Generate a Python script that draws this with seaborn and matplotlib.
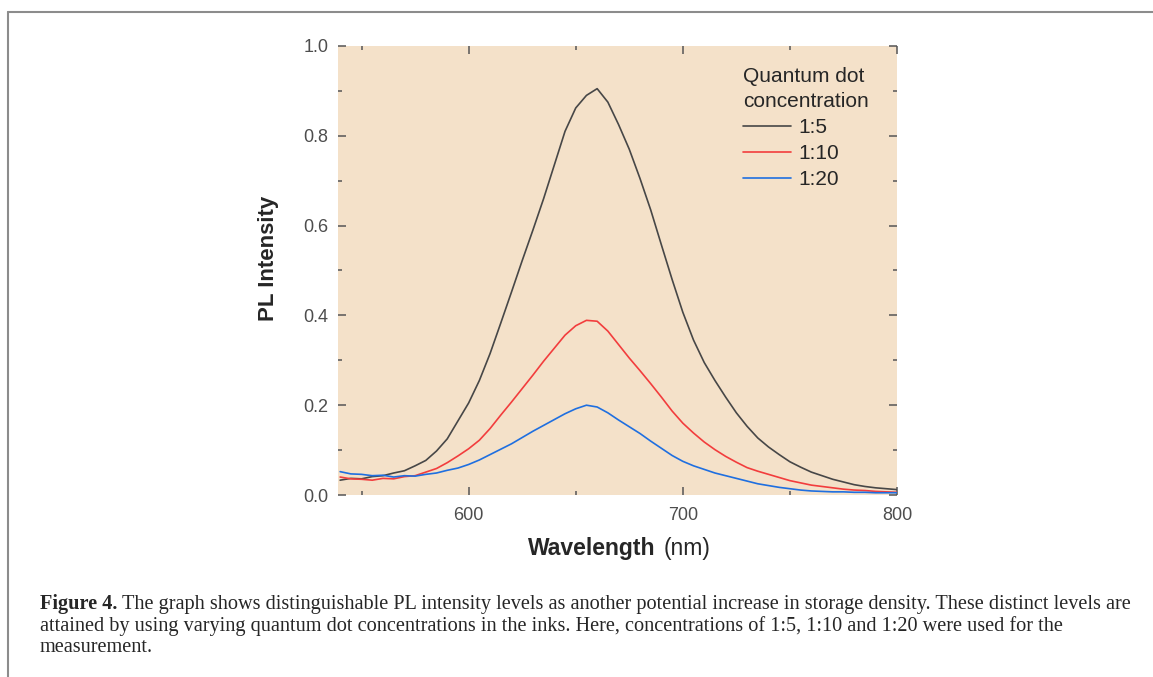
import numpy as np
import pandas as pd
import seaborn as sns
from matplotlib import pyplot as plt
from matplotlib.lines import Line2D
from matplotlib.ticker import MultipleLocator, FormatStrFormatter

sns.set_style('ticks')
plt.rcParams['font.family'] = ['Liberation Sans', 'DejaVu Sans']

# values, every 5 nm
wavelength = list(range(540, 805, 5))
pl_1_5 = [0.033, 0.037, 0.036, 0.041, 0.043, 0.049, 0.054, 0.065, 0.077, 0.098,
          0.125, 0.165, 0.205, 0.255, 0.315, 0.383, 0.452, 0.522, 0.590, 0.660,
          0.735, 0.810, 0.862, 0.890, 0.905, 0.875, 0.825, 0.770, 0.705, 0.635,
          0.557, 0.480, 0.407, 0.345, 0.295, 0.255, 0.218, 0.183, 0.153, 0.127,
          0.107, 0.090, 0.074, 0.062, 0.051, 0.043, 0.035, 0.029, 0.023, 0.019,
          0.016, 0.014, 0.012]
pl_1_10 = [0.040, 0.036, 0.035, 0.033, 0.037, 0.036, 0.041, 0.043, 0.051, 0.059,
           0.072, 0.087, 0.103, 0.122, 0.148, 0.178, 0.207, 0.237, 0.267, 0.298,
           0.327, 0.356, 0.377, 0.389, 0.387, 0.365, 0.335, 0.305, 0.277, 0.248,
           0.218, 0.187, 0.160, 0.138, 0.118, 0.101, 0.086, 0.073, 0.061, 0.053,
           0.046, 0.039, 0.032, 0.027, 0.022, 0.019, 0.016, 0.013, 0.011, 0.010,
           0.008, 0.007, 0.006]
pl_1_20 = [0.052, 0.047, 0.046, 0.043, 0.044, 0.040, 0.043, 0.042, 0.046, 0.049,
           0.055, 0.060, 0.068, 0.078, 0.090, 0.102, 0.114, 0.128, 0.142, 0.155,
           0.168, 0.181, 0.192, 0.200, 0.196, 0.183, 0.167, 0.152, 0.137, 0.120,
           0.104, 0.088, 0.075, 0.065, 0.057, 0.049, 0.043, 0.037, 0.031, 0.025,
           0.021, 0.017, 0.014, 0.011, 0.009, 0.008, 0.007, 0.007, 0.006, 0.006,
           0.005, 0.005, 0.005]
labels = ['1:5', '1:10', '1:20']
colors = ['#474747', '#f23d3d', '#1f6fe0']

df = pd.DataFrame({
    'wavelength': wavelength * 3,
    'intensity': pl_1_5 + pl_1_10 + pl_1_20,
    'conc': [l for l in labels for _ in wavelength],
})

W, H = 1153, 677
fig = plt.figure(figsize=(W / 100, H / 100), dpi=100)
ax = fig.add_axes([338 / W, 1 - 495 / H, (897 - 338) / W, (495 - 46) / H])
ax.set_facecolor('#f4e1c9')

sns.lineplot(data=df, x='wavelength', y='intensity', hue='conc', hue_order=labels,
             palette=colors, estimator=None, linewidth=1.2, ax=ax)

ax.set_xlim(539, 800)
ax.set_ylim(0, 1.0)
ax.xaxis.set_major_locator(MultipleLocator(100))
ax.xaxis.set_minor_locator(MultipleLocator(50))
ax.yaxis.set_major_locator(MultipleLocator(0.2))
ax.yaxis.set_minor_locator(MultipleLocator(0.1))
ax.yaxis.set_major_formatter(FormatStrFormatter('%.1f'))
for s in ax.spines.values():
    s.set_visible(False)
ax.tick_params(which='both', direction='in', top=True, right=True,
               color='#555555', labelcolor='#4d4d4d', labelsize=13, width=1.1)
ax.tick_params(which='major', length=6)
ax.tick_params(which='minor', length=3)
ax.tick_params(axis='x', pad=9)
ax.tick_params(axis='y', pad=7)
ax.set_xlabel('')
ax.set_ylabel('')

ax.text(0.568, -0.12, 'Wavelength', transform=ax.transAxes, fontsize=16.5,
        fontweight='bold', ha='right', va='center')
ax.text(0.582, -0.12, '(nm)', transform=ax.transAxes, fontsize=16.5,
        ha='left', va='center')
ax.text(-0.125, 0.528, 'PL Intensity', transform=ax.transAxes, fontsize=16,
        fontweight='bold', rotation=90, ha='center', va='center')

h, l = ax.get_legend_handles_labels()
leg = ax.legend(h, l, title='Quantum dot\nconcentration', frameon=False,
                loc='upper left', bbox_to_anchor=(0.7245, 0.953), borderpad=0,
                borderaxespad=0, fontsize=15, title_fontsize=15, handlelength=2.3,
                handletextpad=0.35, labelspacing=0.34)
leg._legend_box.align = 'left'
leg.get_title().set_linespacing(1.4)
for line in leg.get_lines():
    line.set_linewidth(1.2)

# page frame
fig.add_artist(Line2D([8 / W, 1], [1 - 12 / H, 1 - 12 / H], color='#8c8c8c', lw=1.5))
fig.add_artist(Line2D([8 / W, 8 / W], [0, 1 - 12 / H], color='#8c8c8c', lw=1.5))

# caption
cap_lines = [
    'The graph shows distinguishable PL intensity levels as another potential increase in storage density. These distinct levels are',
    'attained by using varying quantum dot concentrations in the inks. Here, concentrations of 1:5, 1:10 and 1:20 were used for the',
    'measurement.',
]
cap_font = dict(family=['Liberation Serif', 'DejaVu Serif'], size=14.6)
cap_y = [604, 626, 648]
t = fig.text(40 / W, 1 - cap_y[0] / H, 'Figure 4.', fontweight='bold', va='center', **cap_font)
r = fig.canvas.get_renderer()
bb = t.get_window_extent(r)
fig.text((bb.x1 + 5) / W, 1 - cap_y[0] / H, cap_lines[0], va='center', **cap_font)
for y, line in zip(cap_y[1:], cap_lines[1:]):
    fig.text(40 / W, 1 - y / H, line, va='center', **cap_font)

fig.savefig('out.png', dpi=100)
